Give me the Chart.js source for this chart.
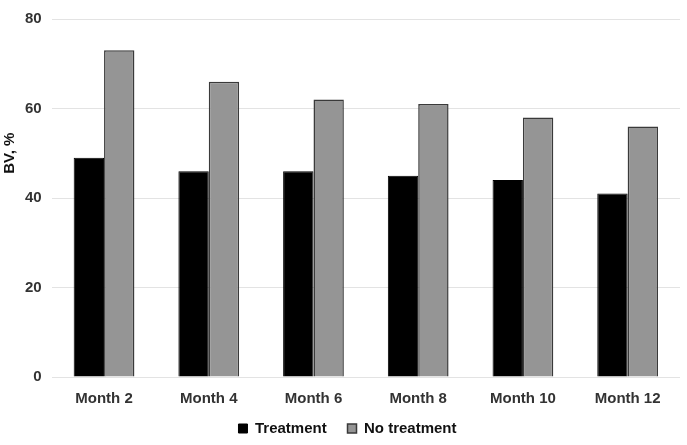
<!DOCTYPE html>
<html>
<head>
<meta charset="utf-8">
<script src="https://cdn.jsdelivr.net/npm/chart.js"></script>
<style>
  html, body { margin: 0; padding: 0; background: #fff; }
  #wrap { width: 687px; height: 445px; }
</style>
</head>
<body>
<div id="wrap"><canvas id="bvChart" width="687" height="445"></canvas></div>
<script>
const months = ['Month 2', 'Month 4', 'Month 6', 'Month 8', 'Month 10', 'Month 12'];
const treatment = [49, 46, 46, 45, 44, 41];
const noTreatment = [73, 66, 62, 61, 58, 56];
const yTicks = [0, 20, 40, 60, 80];
const yTitle = 'BV, %';

const font = { family: '"Liberation Sans", Arial, sans-serif', weight: 'bold', size: 15 };

// y axis title sits a bit above the middle of the axis in the original
const yTitlePlugin = {
  id: 'yTitle',
  afterDraw(chart) {
    const c = chart.ctx;
    const y = chart.scales.y.getPixelForValue(50);
    c.save();
    c.translate(10, y);
    c.rotate(-Math.PI / 2);
    c.font = 'bold 15px "Liberation Sans", Arial, sans-serif';
    c.fillStyle = '#111';
    c.textAlign = 'center';
    c.textBaseline = 'middle';
    c.fillText(yTitle, 0, 0);
    c.restore();
  }
};

const ctx = document.getElementById('bvChart').getContext('2d');
const bvChart = new Chart(ctx, {
  type: 'bar',
  data: {
    labels: months,
    datasets: [{
      label: 'Treatment',
      data: treatment,
      backgroundColor: '#000000',
      borderColor: '#000000',
      borderWidth: 1
    }, {
      label: 'No treatment',
      data: noTreatment,
      backgroundColor: '#959595',
      borderColor: '#3a3a3a',
      borderWidth: 1.5
    }]
  },
  plugins: [yTitlePlugin],
  options: {
    responsive: false,
    animation: false,
    layout: { padding: { left: 15, right: 7, top: 19, bottom: -1 } },
    datasets: { bar: { categoryPercentage: 0.58, barPercentage: 1.0 } },
    plugins: {
      tooltip: { enabled: false },
      legend: {
        position: 'bottom',
        labels: {
          font: font,
          color: '#111',
          boxWidth: 9,
          boxHeight: 9,
          padding: 0,
          // room between the two entries
          generateLabels: chart => Chart.defaults.plugins.legend.labels.generateLabels(chart)
            .map((item, i) => i === 0 ? { ...item, text: item.text + '     ' } : item)
        }
      }
    },
    scales: {
      x: {
        grid: { display: false, drawTicks: false },
        border: { display: false },
        ticks: { font: font, color: '#333', padding: 13 }
      },
      y: {
        min: 0,
        max: 80,
        afterBuildTicks: axis => { axis.ticks = yTicks.map(v => ({ value: v })); },
        grid: { color: '#e3e3e3', lineWidth: 1, drawTicks: false },
        border: { display: false },
        ticks: { font: font, color: '#333', padding: 10 }
      }
    }
  }
});
</script>
</body>
</html>
